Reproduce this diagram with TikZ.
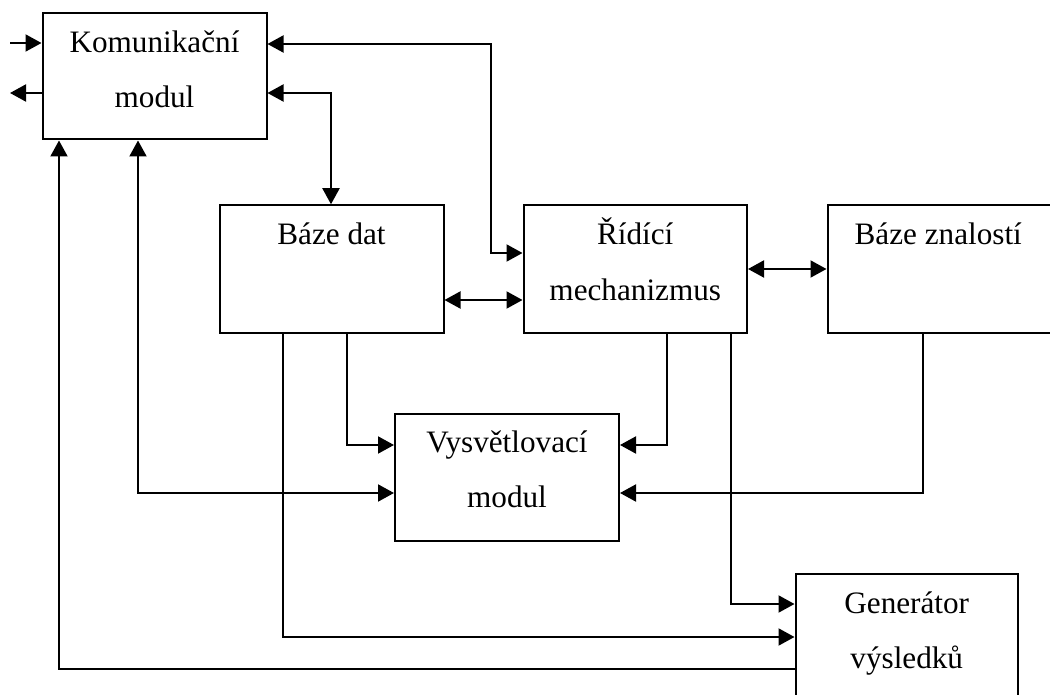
\documentclass[tikz,border=0pt]{standalone}
\usepackage{fontspec}
\setmainfont{Liberation Serif}
\usetikzlibrary{arrows.meta}

\tikzset{
  box/.style 2 args={draw, line width=1pt, inner sep=0pt,
    minimum width=#1*0.5pt, minimum height=#2*0.5pt},
  lbl/.style={anchor=base, inner sep=0pt, font=\fontsize{15.6pt}{18pt}\selectfont},
  tip/.tip={Triangle[length=8pt,width=8.5pt]},
  arr/.style={line width=1pt, -tip},
  darr/.style={line width=1pt, tip-tip},
}

\begin{document}
\begin{tikzpicture}[x=0.5pt,y=-0.5pt]
  \useasboundingbox (0,0) rectangle (1050,695);
  \clip (0,0) rectangle (1050,695);

  % modules
  \node[box={224}{126}]   (kom) at (154.5,76.5) {};
  \node[box={224}{127.5}] (bd)  at (331.5,269) {};
  \node[box={223.5}{127.5}] (rm) at (635.25,269) {};
  \node[box={232}{127.5}] (bz)  at (943.5,269) {};
  \node[box={224}{127}]   (vm)  at (507,477) {};
  \node[box={222.5}{140}] (gen) at (906.75,643.5) {};

  % module titles
  \node[lbl] (kom1) at (154.5,53)  {Komunikační};
  \node[lbl] (kom2) at (154.5,108) {modul};
  \node[lbl] (bd1)  at (331.5,245) {Báze dat};
  \node[lbl] (rm1)  at (635.25,245) {Řídící};
  \node[lbl] (rm2)  at (635.25,300) {mechanizmus};
  \node[lbl] (bz1)  at (938.25,245) {Báze znalostí};
  \node[lbl] (vm1)  at (507,452) {Vysvětlovací};
  \node[lbl] (vm2)  at (507,507) {modul};
  \node[lbl] (gen1) at (906.75,613) {Generátor};
  \node[lbl] (gen2) at (906.75,668) {výsledků};

  % external input / output
  \coordinate (inl)  at (10,43);
  \coordinate (outl) at (10,93);
  \draw[arr] (inl) -- (inl -| kom.west);
  \draw[arr] (outl -| kom.west) -- (outl);

  % connections between modules
  \draw[darr] (kom.east |- 0,44) -| (491,253) -- (rm.west |- 0,253);
  \draw[darr] (kom.east |- 0,93) -| (bd.north -| 331,0);
  \draw[darr] (bd.east |- 0,300) -- (rm.west |- 0,300);
  \draw[darr] (rm.east |- 0,269) -- (bz.west |- 0,269);

  \draw[arr] (bd.south -| 347,0) |- (vm.west |- 0,445);
  \draw[arr] (rm.south -| 667,0) |- (vm.east |- 0,445);
  \draw[arr] (bz.south -| 923,0) |- (vm.east |- 0,493);
  \draw[darr] (kom.south -| 138,0) |- (vm.west |- 0,493);

  \draw[arr] (bd.south -| 283,0) |- (gen.west |- 0,637);
  \draw[arr] (rm.south -| 731,0) |- (gen.west |- 0,604);
  \draw[arr] (gen.west |- 0,669) -| (kom.south -| 59,0);
\end{tikzpicture}
\end{document}
